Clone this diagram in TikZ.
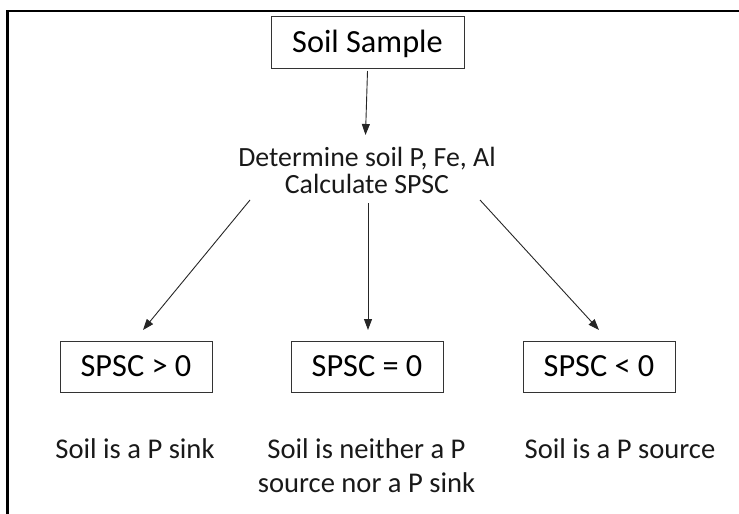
\documentclass[tikz,border=0pt]{standalone}
\usepackage{fontspec}
\setmainfont{Carlito}
\usetikzlibrary{arrows.meta,calc}
\begin{document}
\begin{tikzpicture}[x=1pt,y=1pt,
  box/.style={draw=black!80, line width=1pt, minimum width=152pt, minimum height=51pt,
    inner sep=0pt, text height=20pt, text depth=0pt, font=\fontsize{32.3}{36}\selectfont},
  lbl/.style={align=center, inner sep=0pt, text=black!90},
  arr/.style={draw=black!85, line width=0.9pt, -{Triangle[length=11pt,width=8pt]}},
  frame/.style={line width=2.5pt, line join=miter}]
\useasboundingbox (0,0) rectangle (739,-514);
\draw[frame] (7.3,-514) -- (7.3,-11.2) -- (739,-11.2);
\node[box, minimum width=193pt, minimum height=52pt] (soil) at (367.5,-42) {Soil Sample};
\node[lbl, font=\fontsize{27.8}{27}\selectfont] (det) at (367,-170.25) {Determine soil P, Fe, Al\\Calculate SPSC};
\node[box] (b1) at (136,-366.5) {SPSC > 0};
\node[box] (b2) at (367,-366.5) {SPSC = 0};
\node[box] (b3) at (599,-366.5) {SPSC < 0};
\node[lbl, anchor=base, font=\fontsize{28.6}{34}\selectfont] (t1) at (135,-458) {Soil is a P sink};
\node[lbl, font=\fontsize{28.6}{34}\selectfont] (t2) at (366.5,-465.5) {Soil is neither a P\\source nor a P sink};
\node[lbl, anchor=base, font=\fontsize{28.6}{34}\selectfont] (t3) at (620,-458) {Soil is a P source};
\draw[arr] ([yshift=-2.5pt]soil.south) -- ($(det.center)+(-1.5,35.25)$);
\draw[arr] ($(det.center)+(-117,-29.75)$) -- ($(b1.center)+(7,36.5)$);
\draw[arr] ($(det.center)+(1,-32.75)$) -- ($(b2.center)+(1,36.5)$);
\draw[arr] ($(det.center)+(113,-29.75)$) -- ($(b3.center)+(0,36.5)$);
\end{tikzpicture}
\end{document}
